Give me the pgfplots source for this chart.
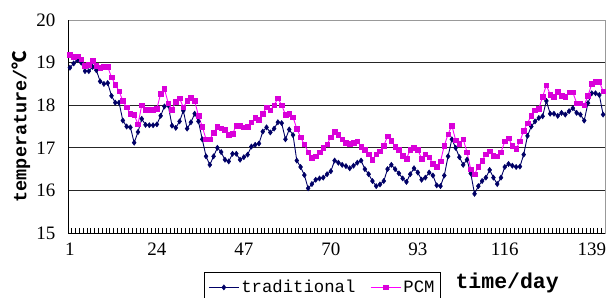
\documentclass[border=0pt]{standalone}
\usepackage{fontspec}
\setmainfont{Liberation Serif}
\setmonofont{Liberation Mono}
\newfontfamily\cjk{Noto Sans CJK SC}
\usepackage{pgfplots}
\pgfplotsset{compat=1.18}
\usepackage{pgfplotstable}
\definecolor{navy}{RGB}{0,0,102}
\definecolor{pcm}{RGB}{255,0,255}

\pgfplotstableread{
day trad pcm
1 18.88 19.18
2 18.98 19.14
3 19.06 19.15
4 19.00 19.08
5 18.80 18.92
6 18.80 18.95
7 18.90 19.04
8 18.82 18.92
9 18.56 18.88
10 18.50 18.90
11 18.52 18.90
12 18.22 18.66
13 18.06 18.48
14 18.06 18.33
15 17.64 18.10
16 17.50 17.95
17 17.48 17.80
18 17.12 17.78
19 17.37 17.55
20 17.68 18.00
21 17.54 17.90
22 17.53 17.90
23 17.53 17.90
24 17.55 17.92
25 17.75 18.27
26 17.97 18.38
27 18.00 18.05
28 17.52 17.90
29 17.47 18.08
30 17.62 18.16
31 17.87 17.95
32 17.45 18.10
33 17.60 18.18
34 17.80 18.10
35 17.62 17.75
36 17.20 17.50
37 16.80 17.20
38 16.60 17.20
39 16.80 17.35
40 17.00 17.50
41 16.90 17.46
42 16.72 17.42
43 16.68 17.30
44 16.86 17.33
45 16.86 17.52
46 16.72 17.52
47 16.78 17.48
48 16.84 17.50
49 17.03 17.60
50 17.07 17.70
51 17.10 17.66
52 17.38 17.80
53 17.48 17.95
54 17.36 17.88
55 17.45 18.00
56 17.60 18.16
57 17.58 18.00
58 17.20 17.78
59 17.43 17.80
60 17.30 17.72
61 16.70 17.45
62 16.55 17.25
63 16.36 17.08
64 16.05 16.90
65 16.15 16.77
66 16.25 16.80
67 16.28 16.90
68 16.30 17.00
69 16.38 17.08
70 16.45 17.25
71 16.70 17.38
72 16.65 17.30
73 16.60 17.20
74 16.57 17.12
75 16.52 17.10
76 16.58 17.12
77 16.65 17.15
78 16.70 17.03
79 16.50 16.95
80 16.38 16.85
81 16.22 16.72
82 16.10 16.85
83 16.14 16.92
84 16.22 17.05
85 16.50 17.27
86 16.60 17.17
87 16.50 17.02
88 16.40 16.95
89 16.28 16.82
90 16.20 16.75
91 16.38 16.95
92 16.52 17.00
93 16.42 16.95
94 16.25 16.75
95 16.30 16.85
96 16.42 16.78
97 16.35 16.62
98 16.12 16.55
99 16.10 16.68
100 16.35 17.05
101 16.80 17.32
102 17.20 17.52
103 17.00 17.18
104 16.78 17.10
105 16.60 17.20
106 16.72 16.90
107 16.40 16.50
108 15.92 16.38
109 16.10 16.55
110 16.22 16.70
111 16.30 16.85
112 16.48 16.92
113 16.30 16.82
114 16.15 16.80
115 16.30 16.90
116 16.55 17.15
117 16.62 17.22
118 16.58 17.05
119 16.55 16.98
120 16.56 17.15
121 16.84 17.40
122 17.28 17.58
123 17.50 17.75
124 17.62 17.88
125 17.70 17.92
126 17.74 18.20
127 18.10 18.47
128 17.80 18.25
129 17.80 18.20
130 17.75 18.32
131 17.82 18.22
132 17.78 18.20
133 17.86 18.30
134 17.93 18.30
135 17.82 18.05
136 17.78 18.05
137 17.64 18.00
138 18.05 18.22
139 18.28 18.50
140 18.28 18.55
141 18.24 18.55
142 17.78 18.33
}\datatable

\begin{document}
\begin{tikzpicture}
\begin{axis}[
  at={(0pt,0pt)}, anchor=south west,
  scale only axis, width=537pt, height=213pt,
  xmin=0.5, xmax=142.5, ymin=15, ymax=20,
  xtick={1,24,47,70,93,116,139},
  minor xtick={0.5,1.5,...,142.5},
  ytick={15,16,...,20},
  major tick length=0pt,
  minor tick length=5pt,
  tick align=inside,
  xtick pos=bottom, ytick pos=left,
  extra y ticks={16,17,18,19}, extra y tick labels={},
  extra tick style={grid=major},
  major grid style={black!85, line width=0.9pt},
  axis line style={draw=black!40, line width=0.8pt},
  tick style={black, line width=0.6pt},
  /pgf/number format/assume math mode=true,
  ticklabel style={font=\fontsize{19}{22}\selectfont},
  yticklabel style={xshift=-9pt},
  xticklabel style={yshift=-6pt},
  clip=false,
  legend columns=2,
  legend style={at={(0.2533,-0.183)}, anchor=north west, draw=black, line width=0.8pt,
    font=\ttfamily\fontsize{17.3}{19}\selectfont, inner xsep=4pt, inner ysep=6pt,
    /tikz/every even column/.append style={column sep=13pt}},
  legend image code/.code={\draw[mark repeat=2,mark phase=2,#1] plot coordinates {(0pt,0pt)(15pt,0pt)(30pt,0pt)};},
]
\addplot[navy, line width=0.9pt, mark=diamond*, mark size=2.6pt, mark options={fill=navy, draw=navy, line width=0.5pt}] table[x=day,y=trad]{\datatable};
\addplot[pcm, line width=0.9pt, mark=square*, mark size=2.3pt, mark options={fill=pcm!85!black, draw=pcm!85!black, line width=0.5pt}] table[x=day,y=pcm]{\datatable};
\legend{traditional,PCM}
\draw[black, line width=1pt] (rel axis cs:0,1) -- (rel axis cs:0,0) -- (rel axis cs:1,0);
\end{axis}
\node[font=\ttfamily\bfseries\fontsize{18.5}{22}\selectfont, rotate=90] at (-47pt,106.5pt) {temperature/{\cjk\bfseries ℃}};
\node[font=\ttfamily\bfseries\fontsize{21.5}{24}\selectfont, anchor=east, inner sep=0pt] at (491pt,-50pt) {time/day};
\pgfresetboundingbox
\useasboundingbox (-68pt,-64pt) rectangle (539pt,233pt);
\end{tikzpicture}
\end{document}
